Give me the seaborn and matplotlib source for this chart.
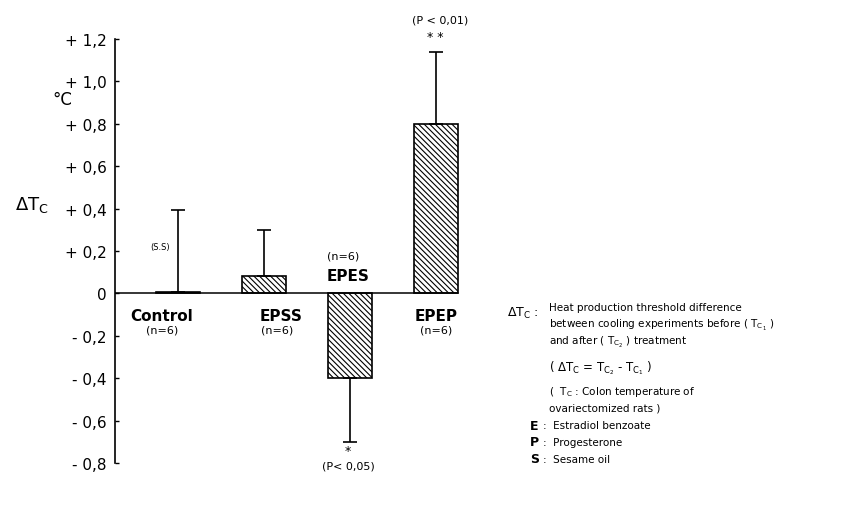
import pandas as pd
import matplotlib.pyplot as plt
import seaborn as sns

# --- Data ---
groups = ["Control", "EPSS", "EPES", "EPEP"]
delta_tc = [0.005, 0.08, -0.40, 0.80]
sem = [0.39, 0.22, 0.30, 0.34]
n_labels = ["(n=6)", "(n=6)", "(n=6)", "(n=6)"]
yticks = [1.2, 1.0, 0.8, 0.6, 0.4, 0.2, 0.0, -0.2, -0.4, -0.6, -0.8]
ytick_labels = ["+ 1,2", "+ 1,0", "+ 0,8", "+ 0,6", "+ 0,4", "+ 0,2", "0",
                "- 0,2", "- 0,4", "- 0,6", "- 0,8"]

df = pd.DataFrame({"group": groups, "delta": delta_tc})

sns.set_style("white")
plt.rcParams["font.family"] = ["DejaVu Sans"]
plt.rcParams["hatch.linewidth"] = 0.8
for key in ["text.color", "axes.labelcolor", "xtick.color", "ytick.color", "axes.edgecolor"]:
    plt.rcParams[key] = "black"

W, H = 860, 506
fig = plt.figure(figsize=(W / 100, H / 100), dpi=100)
ax = fig.add_axes([115 / W, 1 - 464 / H, (470 - 115) / W, (464 - 40) / H])

sns.barplot(data=df, x="group", y="delta", color="white", edgecolor="black",
            linewidth=1.2, width=0.51, errorbar=None, ax=ax)
for bar in ax.patches:
    bar.set_hatch("\\\\\\\\\\\\")

# one-sided error bars (away from zero)
lower = [s if m < 0 else 0 for m, s in zip(delta_tc, sem)]
upper = [s if m >= 0 else 0 for m, s in zip(delta_tc, sem)]
ax.errorbar(range(len(groups)), delta_tc, yerr=[lower, upper], fmt="none",
            ecolor="black", elinewidth=1.2, capsize=5, capthick=1.2)

xmin, xmax = -0.733, 3.4
ax.set_xlim(xmin, xmax)
ax.set_ylim(-0.8, 1.2)
ax.plot([xmin, 3.26], [0, 0], color="black", lw=1.1)

for s in ["top", "right", "bottom"]:
    ax.spines[s].set_visible(False)
ax.spines["left"].set_linewidth(1.2)
ax.set_xticks([])
ax.set_xlabel("")
ax.set_ylabel("")
ax.set_yticks(yticks)
ax.set_yticklabels(ytick_labels, fontsize=11)
ax.tick_params(axis="y", left=True, direction="in", length=3, width=1.0, pad=6)

# group labels
bold = dict(fontsize=11, fontweight="heavy", ha="center", va="center")
small = dict(fontsize=8, ha="center", va="center")
ax.text(-0.19, -0.105, groups[0], **bold)
ax.text(-0.19, -0.17, n_labels[0], **small)
ax.text(1.2, -0.105, groups[1], **bold)
ax.text(1.15, -0.17, n_labels[1], **small)
ax.text(1.98, 0.085, groups[2], **bold)
ax.text(1.92, 0.18, n_labels[2], **small)
ax.text(3.0, -0.105, groups[3], **bold)
ax.text(3.0, -0.17, n_labels[3], **small)
ax.text(-0.21, 0.22, "(S.S)", fontsize=6, ha="center", va="center")

# significance marks
ax.text(3.0, 1.21, "* *", fontsize=9, ha="center", va="center", clip_on=False)
ax.text(3.05, 1.29, "(P < 0,01)", fontsize=8, ha="center", va="center", clip_on=False)
ax.text(1.98, -0.74, "*", fontsize=9, ha="center", va="center", clip_on=False)
ax.text(1.98, -0.81, "(P< 0,05)", fontsize=8, ha="center", va="center", clip_on=False)

# axis annotations
fig.text(62 / W, 1 - 100 / H, "°C", fontsize=12, ha="center", va="center")
fig.text(32 / W, 1 - 205 / H, r"$\Delta \mathrm{T}_\mathrm{C}$", fontsize=13,
         ha="center", va="center")

# explanation block
def ftxt(x, y, s, **kw):
    fig.text(x / W, 1 - y / H, s, va="center", ha="left", **kw)

ftxt(507, 313, r"$\Delta \mathrm{T}_\mathrm{C}$ :", fontsize=9)
ftxt(549, 308, "Heat production threshold difference", fontsize=7.5)
ftxt(549, 325, r"between cooling experiments before ( $\mathrm{T}_{\mathrm{C}_1}$ )", fontsize=7.5)
ftxt(549, 342, r"and after ( $\mathrm{T}_{\mathrm{C}_2}$ ) treatment", fontsize=7.5)
ftxt(549, 368, r"( $\Delta \mathrm{T}_\mathrm{C}$ = $\mathrm{T}_{\mathrm{C}_2}$ - $\mathrm{T}_{\mathrm{C}_1}$ )",
     fontsize=8.5)
ftxt(549, 392, r"(  $\mathrm{T}_\mathrm{C}$ : Colon temperature of", fontsize=7.5)
ftxt(549, 409, "ovariectomized rats )", fontsize=7.5)
for y, letter, name in [(426, "E", "Estradiol benzoate"),
                        (443, "P", "Progesterone"),
                        (460, "S", "Sesame oil")]:
    ftxt(530, y, letter, fontsize=9, fontweight="heavy")
    ftxt(543, y, ":  " + name, fontsize=7.5)

fig.savefig("out.png", dpi=100)
